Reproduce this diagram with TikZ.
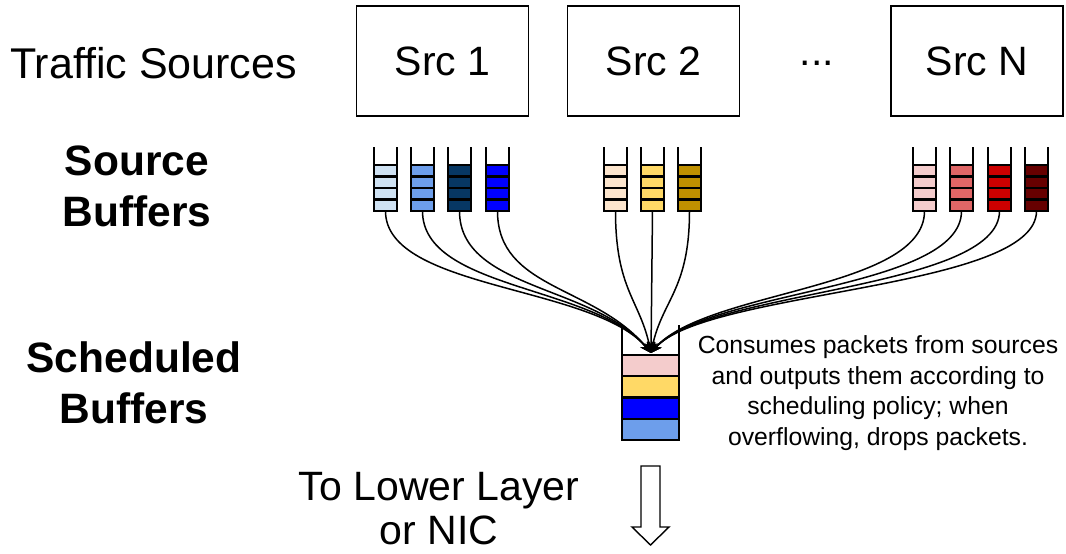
\documentclass[tikz,border=0pt]{standalone}
\usepackage{fontspec}
\setmainfont{Liberation Sans}
\usetikzlibrary{arrows.meta}

% buffer fill colours
\definecolor{bA}{HTML}{CFE2F3}
\definecolor{bB}{HTML}{6D9EEB}
\definecolor{bC}{HTML}{073763}
\definecolor{bD}{HTML}{0000FF}
\definecolor{oA}{HTML}{FCE5CD}
\definecolor{oB}{HTML}{FFD966}
\definecolor{oC}{HTML}{BF9000}
\definecolor{rA}{HTML}{F4CCCC}
\definecolor{rB}{HTML}{E06666}
\definecolor{rC}{HTML}{CC0000}
\definecolor{rD}{HTML}{660000}

\tikzset{
  srcbox/.style={draw, line width=1.6pt, minimum width=172pt, minimum height=110pt,
    inner sep=0pt, font=\fontsize{41}{48}\selectfont},
  bigtext/.style={inner sep=0pt, align=center, font=\fontsize{43}{50}\selectfont},
  boldtext/.style={inner sep=0pt, align=center, font=\fontsize{42.5}{51}\selectfont\bfseries},
  notetext/.style={inner sep=0pt, align=center, font=\fontsize{24.75}{30.5}\selectfont},
  cell/.style={draw, line width=2.4pt},
  bufwall/.style={draw, line width=2.8pt, line join=miter},
  feed/.style={line width=1.5pt, -{Stealth[length=11pt, width=9pt]}},
}

% a source buffer: four filled cells inside an open-topped wall
\newcommand{\srcbuf}[3]{%
  \foreach \k in {0,...,3}{\draw[cell, fill=#3] (#2, 165+\k*11.5) rectangle ++(23, 11.5);}
  \draw[bufwall] (#2, 147) -- (#2, 211) -- (#2+23, 211) -- (#2+23, 147);
  \coordinate (#1) at (#2+11.5, 211);
  \coordinate (#1c) at (#2+11.5, 290);
}

\begin{document}
\begin{tikzpicture}[x=1pt, y=-1pt]
\useasboundingbox (0,0) rectangle (1066,554);

% row labels
\node[bigtext] (lblsrc) at (153.5, 63) {Traffic Sources};
\node[boldtext] (lblbuf) at (137, 186) {Source\\Buffers};
\node[boldtext] (lblsched) at (134, 383) {Scheduled\\Buffers};

% traffic sources
\node[srcbox] (s1) at (442.5, 61) {Src 1};
\node[srcbox] (s2) at (653.5, 61) {Src 2};
\node[srcbox] (sn) at (977, 61) {Src N};
\node[bigtext, font=\fontsize{41}{48}\selectfont] (dots) at (817, 63) {...};

% source buffers
\srcbuf{q1}{374}{bA}
\srcbuf{q2}{411}{bB}
\srcbuf{q3}{448}{bC}
\srcbuf{q4}{486}{bD}
\srcbuf{q5}{604}{oA}
\srcbuf{q6}{641}{oB}
\srcbuf{q7}{678}{oC}
\srcbuf{q8}{913}{rA}
\srcbuf{q9}{950}{rB}
\srcbuf{q10}{988}{rC}
\srcbuf{q11}{1025}{rD}

% scheduled buffer
\draw[cell, fill=rA] (622, 355) rectangle (679, 376.25);
\draw[cell, fill=oB] (622, 376.25) rectangle (679, 397.5);
\draw[cell, fill=bD] (622, 397.5) rectangle (679, 418.75);
\draw[cell, fill=bB] (622, 418.75) rectangle (679, 440);
\draw[bufwall] (622, 325) -- (622, 440) -- (679, 440) -- (679, 325);
\coordinate (sched) at (651, 353);

% feeds from every source buffer into the scheduler
\foreach \q in {q1, q2, q3, q4}{
  \draw[feed] (\q) .. controls (\q c) and (595, 285) .. (sched);
}
\foreach \q in {q8, q9, q10, q11}{
  \draw[feed] (\q) .. controls (\q c) and (705, 290) .. (sched);
}
\draw[feed] (q5) .. controls (q5c) and (640, 300) .. (sched);
\draw[feed] (q6) -- (sched);
\draw[feed] (q7) .. controls (q7c) and (662, 300) .. (sched);

% note on scheduler behaviour
\node[notetext] (note) at (878, 393) {Consumes packets from sources\\and outputs them according to\\scheduling policy; when\\overflowing, drops packets.};

% output towards the lower layer
\draw[line width=1.4pt, line join=miter] (641, 466) -- (660, 466) -- (660, 527) -- (669, 527)
  -- (650.5, 545) -- (632, 527) -- (641, 527) -- cycle;
\node[bigtext, font=\fontsize{41}{44}\selectfont] (out) at (439, 509) {To Lower Layer\\or NIC};
\end{tikzpicture}
\end{document}
